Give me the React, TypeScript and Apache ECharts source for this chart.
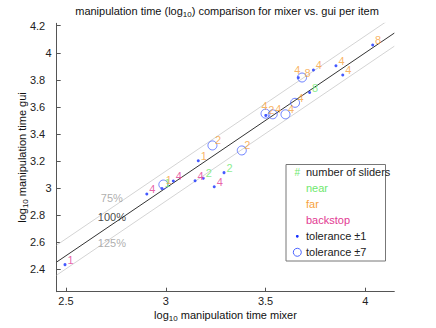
import React, { useEffect, useRef } from 'react';
import * as echarts from 'echarts';

// log10 manipulation time, mixer (x) vs gui (y)
const mixerLog = [2.495, 2.905, 2.988, 2.981, 3.038, 3.163, 3.147, 3.188, 3.243, 3.292, 3.234, 3.381, 3.5, 3.5015, 3.536, 3.6, 3.648, 3.721, 3.664, 3.683, 3.74, 3.853, 3.887, 4.037];
const guiLog = [2.434, 2.956, 3.026, 2.997, 3.052, 3.202, 3.054, 3.072, 3.01, 3.114, 3.315, 3.278, 3.55, 3.537, 3.545, 3.545, 3.63, 3.706, 3.816, 3.817, 3.873, 3.904, 3.836, 4.057];
const sliders = [1, 4, 1, 1, 4, 1, 4, 2, 4, 2, 2, 2, 4, 2, 4, 4, 4, 8, 4, 8, 4, 4, 4, 8];
const mode = ['backstop', 'backstop', 'far', 'near', 'backstop', 'far', 'backstop', 'near', 'backstop', 'near', 'far', 'far', 'far', 'far', 'far', 'far', 'far', 'near', 'far', 'far', 'far', 'far', 'far', 'far'];
const tolerance = [1, 1, 7, 1, 1, 1, 1, 1, 1, 1, 7, 7, 7, 1, 7, 7, 7, 1, 1, 7, 1, 1, 1, 1];
const labelPlace = ['ne', 'ne', 'ne', 'ne', 'ne', 'ne', 'ne', 'ne', 'ne', 'ne', 'ne', 'ne', 'n', 'ne', 'ne', 'ne', 'ne', 'ne', 'n', 'ne', 'ne', 'ne', 'ne', 'ne'];

// reference lines gui = mixer * ratio
const refRatios = [0.75, 1, 1.25];
const refNames = ['75%', '100%', '125%'];
const refLabelX = [2.73, 2.73, 2.73];
const refLabelY = [2.929, 2.786, 2.592];

const xTicks = [2.5, 3, 3.5, 4];
const yTicks = [2.4, 2.6, 2.8, 3, 3.2, 3.4, 3.6, 3.8, 4, 4.2];
const xMin = 2.4534, xMax = 4.1454;
const yMin = 2.234, yMax = 4.2177;

const modeColor: Record<string, string> = { near: '#6ee86e', far: '#f7a23c', backstop: '#e23a92' };
const FONT = 'Liberation Sans, Arial, sans-serif';

export default function App() {
  const ref = useRef<HTMLDivElement>(null);
  useEffect(() => {
    if (!ref.current) return;
    const chart = echarts.init(ref.current, null, { renderer: 'svg' });
    const pts = (tol: number) =>
      mixerLog.map((x, i) => ({ x, i })).filter((d) => tolerance[d.i] === tol).map(({ x, i }) => ({
        value: [x, guiLog[i]],
        label: {
          show: true,
          position: 'inside',
          formatter: String(sliders[i]),
          color: modeColor[mode[i]],
          fontSize: 11,
          fontFamily: FONT,
          offset: labelPlace[i] === 'n' ? [-1, -8] : [5.5, -5],
        },
      }));
    const refSeries = refRatios.map((r) => ({
      type: 'line',
      data: [[xMin, xMin - Math.log10(r)], [xMax, xMax - Math.log10(r)]],
      symbol: 'none',
      clip: true,
      silent: true,
      lineStyle: { color: r === 1 ? '#333' : '#d4d4d4', width: 1 },
      z: 1,
    }));
    const sub = { fontSize: 8, fontFamily: FONT, padding: [7, 0, 0, 0] };
    const main = { fontSize: 11, fontFamily: FONT };
    const legendRows = [
      { sym: '#', text: 'number of sliders', color: '#222' },
      { sym: '', text: 'near', color: modeColor.near },
      { sym: '', text: 'far', color: modeColor.far },
      { sym: '', text: 'backstop', color: modeColor.backstop },
      { sym: 'dot', text: 'tolerance \u00b11', color: '#222' },
      { sym: 'circle', text: 'tolerance \u00b17', color: '#222' },
    ];
    const legendEls: any[] = [
      { type: 'rect', shape: { x: 286, y: 164.5, width: 99.5, height: 96.5 }, style: { fill: '#fff', stroke: '#777', lineWidth: 1 }, z: 10 },
    ];
    legendRows.forEach((r, k) => {
      const cy = 172.3 + k * 16;
      legendEls.push({ type: 'text', x: 306, y: cy, style: { text: r.text, fill: r.color, fontSize: 11, fontFamily: FONT, align: 'left', verticalAlign: 'middle' }, z: 11 });
      if (r.sym === '#') legendEls.push({ type: 'text', x: 297.3, y: cy, style: { text: '#', fill: modeColor.near, fontSize: 10, fontFamily: FONT, align: 'center', verticalAlign: 'middle' }, z: 11 });
      if (r.sym === 'dot') legendEls.push({ type: 'circle', shape: { cx: 297.3, cy, r: 1.4 }, style: { fill: '#1530ff' }, z: 11 });
      if (r.sym === 'circle') legendEls.push({ type: 'circle', shape: { cx: 297.3, cy, r: 4 }, style: { fill: 'none', stroke: '#4a63ff', lineWidth: 1 }, z: 11 });
    });
    chart.setOption({
      animation: false,
      grid: { left: 56.7, right: 41.7, top: 23.3, bottom: 36.3, containLabel: false },
      xAxis: {
        type: 'value', min: xMin, max: xMax,
        name: '{a|log}{s|10}{a| manipulation time mixer}', nameLocation: 'middle', nameGap: 16, nameMoveOverlap: false,
        nameTextStyle: { rich: { a: { ...main, color: '#111' }, s: { ...sub, color: '#111' } } },
        axisLine: { show: true, lineStyle: { color: '#555' } },
        axisTick: { show: true, inside: true, length: 4, customValues: xTicks, lineStyle: { color: '#555' } },
        axisLabel: { customValues: xTicks, margin: 4, fontSize: 11, fontFamily: FONT, color: '#222', formatter: (v: number) => String(v) },
        splitLine: { show: false },
      },
      yAxis: {
        type: 'value', min: yMin, max: yMax,
        name: '{a|log}{s|10}{a| manipulation time gui}', nameLocation: 'middle', nameGap: 27, nameMoveOverlap: false,
        nameTextStyle: { rich: { a: { ...main, color: '#111' }, s: { ...sub, color: '#111' } } },
        axisLine: { show: true, lineStyle: { color: '#555' } },
        axisTick: { show: true, inside: true, length: 4, customValues: yTicks, lineStyle: { color: '#555' } },
        axisLabel: {
          customValues: yTicks, margin: 5, fontSize: 11, fontFamily: FONT, color: '#222',
          formatter: (v: number) => (Number.isInteger(v) ? String(v) : `{d|${v}}`),
          rich: { d: { fontSize: 11, fontFamily: FONT, color: '#222', padding: [0, 6.5, 0, 0] } },
        },
        splitLine: { show: false },
      },
      graphic: [
        {
          type: 'text', x: 227, y: 11,
          style: {
            text: '{a|manipulation time (log}{s|10}{a|) comparison for mixer vs. gui per item}',
            align: 'center', verticalAlign: 'middle',
            rich: { a: { ...main, fill: '#111' }, s: { ...sub, fill: '#111' } },
          },
        },
        ...legendEls,
      ],
      series: [
        ...refSeries,
        {
          type: 'scatter', data: refNames.map((n, k) => ({
            value: [refLabelX[k], refLabelY[k]],
            label: { show: true, position: 'inside', formatter: n, color: refRatios[k] === 1 ? '#111' : '#999', fontSize: 11, fontFamily: FONT },
          })),
          symbolSize: 0, silent: true, z: 2,
        },
        { type: 'scatter', data: pts(1), symbol: 'circle', symbolSize: 3, itemStyle: { color: '#1530ff' }, z: 3 },
        { type: 'scatter', data: pts(7), symbol: 'circle', symbolSize: 9, itemStyle: { color: 'rgba(0,0,0,0)', borderColor: '#4a63ff', borderWidth: 1 }, z: 3 },
      ],
    } as any);
    return () => chart.dispose();
  }, []);
  return <div ref={ref} style={{ position: 'fixed', left: 0, top: 0, width: 436, height: 328, background: '#fff' }} />;
}
